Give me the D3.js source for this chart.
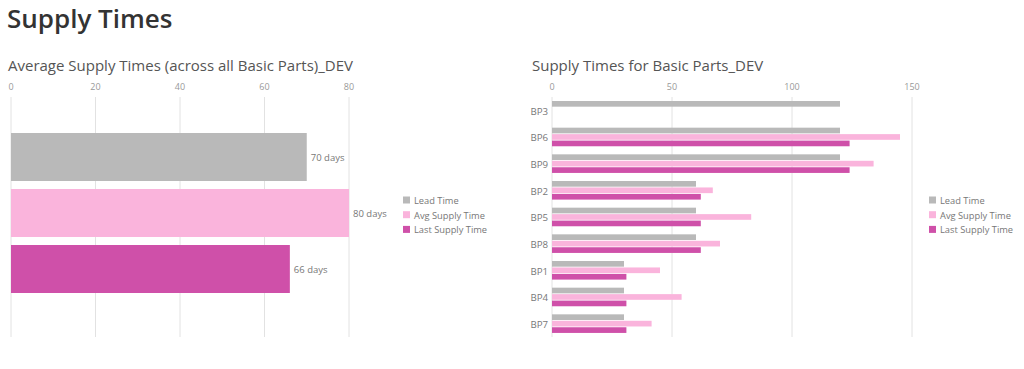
<!DOCTYPE html>
<html><head><meta charset="utf-8">
<script src="https://cdn.jsdelivr.net/npm/d3@7"></script>
<style>
body{margin:0;background:#fff;font-family:"Open Sans",sans-serif;}
svg{display:block}
</style></head>
<body>
<svg id="chart" width="1024" height="369"></svg>
<script>
const seriesNames = ["Lead Time", "Avg Supply Time", "Last Supply Time"];
const seriesColors = ["#b9b9b9", "#fab4dc", "#cf50a9"];

// Left chart: averages
const avgValues = [70, 80, 66];
const avgTicks = [0, 20, 40, 60, 80];

// Right chart: per basic part
const parts = ["BP3", "BP6", "BP9", "BP2", "BP5", "BP8", "BP1", "BP4", "BP7"];
const leadTime = [120, 120, 120, 60, 60, 60, 30, 30, 30];
const avgSupplyTime = [null, 145, 134, 67, 83, 70, 45, 54, 41.5];
const lastSupplyTime = [null, 124, 124, 62, 62, 62, 31, 31, 31];
const partTicks = [0, 50, 100, 150];

const svg = d3.select("#chart");

svg.append("text").attr("x", 7).attr("y", 28)
  .attr("font-size", 26).attr("font-weight", 600).attr("fill", "#333").text("Supply Times");

svg.append("text").attr("x", 8).attr("y", 71)
  .attr("font-size", 15).attr("fill", "#555").text("Average Supply Times (across all Basic Parts)_DEV");
svg.append("text").attr("x", 532).attr("y", 71)
  .attr("font-size", 15).attr("fill", "#555").text("Supply Times for Basic Parts_DEV");

function drawLegend(g, x, y) {
  seriesNames.forEach((s, i) => {
    g.append("rect").attr("x", x).attr("y", y + i * 14.7 - 4).attr("width", 7).attr("height", 7)
      .attr("fill", seriesColors[i]);
    g.append("text").attr("x", x + 11).attr("y", y + i * 14.7 + 3.5)
      .attr("font-size", 9.3).attr("fill", "#777").text(s);
  });
}

function gridAxis(g, x, y0, y1, ticks) {
  const gg = g.append("g");
  gg.selectAll("line").data(ticks).join("line")
    .attr("x1", d => x(d)).attr("x2", d => x(d))
    .attr("y1", y0).attr("y2", y1)
    .attr("stroke", "#e2e2e2").attr("stroke-width", 1);
  gg.selectAll("text").data(ticks).join("text")
    .attr("x", d => x(d)).attr("y", 90).attr("text-anchor", "middle")
    .attr("font-size", 9).attr("fill", "#999").text(d => d);
}

// ---- Left chart
const xL = d3.scaleLinear().domain([0, 80]).range([11, 349]);
const yL = d3.scaleBand().domain(seriesNames).range([125, 301]).paddingInner(8/56).paddingOuter(8/56);
const gL = svg.append("g");
gridAxis(gL, xL, 97, 337, avgTicks);
gL.selectAll("rect.bar").data(avgValues).join("rect").attr("class", "bar")
  .attr("x", xL(0)).attr("y", (d, i) => yL(seriesNames[i]))
  .attr("width", d => xL(d) - xL(0)).attr("height", yL.bandwidth())
  .attr("fill", (d, i) => seriesColors[i]);
gL.selectAll("text.val").data(avgValues).join("text").attr("class", "val")
  .attr("x", d => xL(d) + 4).attr("y", (d, i) => yL(seriesNames[i]) + yL.bandwidth() / 2 + 3.5)
  .attr("font-size", 9.5).attr("fill", "#777").text(d => d + " days");
drawLegend(gL, 403, 200.5);

// ---- Right chart
const xR = d3.scaleLinear().domain([0, 150]).range([552, 912]);
const yR = d3.scaleBand().domain(parts).range([98, 338]);
const ySub = d3.scaleBand().domain(seriesNames).range([3, 21.6]).paddingInner(0.12);
const gR = svg.append("g");
gridAxis(gR, xR, 97, 337, partTicks);
const rows = [leadTime, avgSupplyTime, lastSupplyTime];
rows.forEach((vals, si) => {
  gR.append("g").selectAll("rect").data(vals.map((v, i) => ({v, p: parts[i]})).filter(d => d.v != null))
    .join("rect")
    .attr("x", xR(0)).attr("y", d => yR(d.p) + ySub(seriesNames[si]))
    .attr("width", d => xR(d.v) - xR(0)).attr("height", ySub.bandwidth())
    .attr("fill", seriesColors[si]);
});
gR.selectAll("text.cat").data(parts).join("text").attr("class", "cat")
  .attr("x", 548).attr("y", d => yR(d) + 16.5).attr("text-anchor", "end")
  .attr("font-size", 9.7).attr("fill", "#777").text(d => d);
drawLegend(gR, 929, 200.5);
</script>
</body></html>
